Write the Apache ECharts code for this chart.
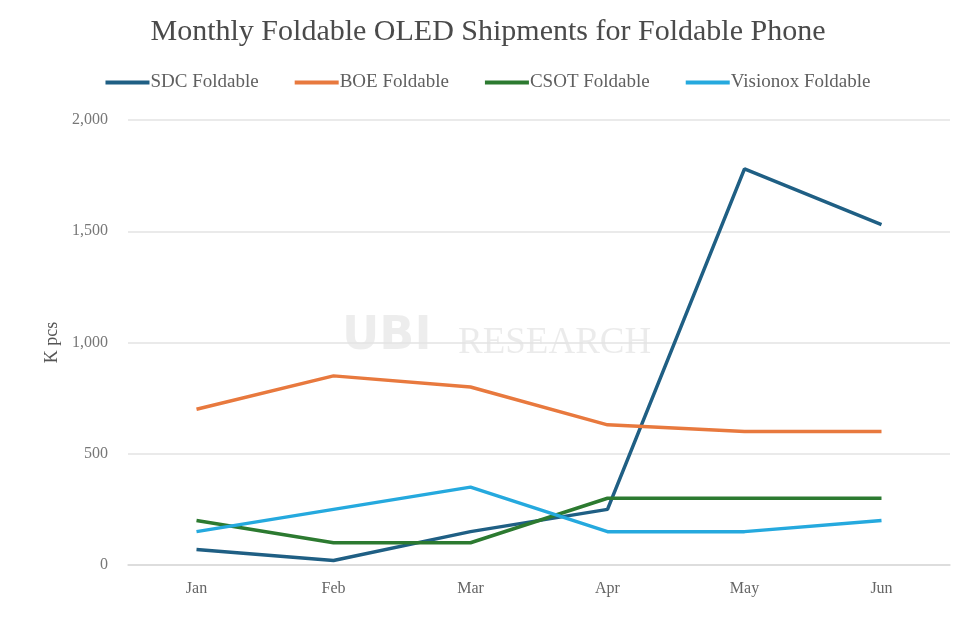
<!DOCTYPE html>
<html>
<head>
<meta charset="utf-8" />
<title>Monthly Foldable OLED Shipments</title>
<script type="text/javascript" src="https://cdn.jsdelivr.net/npm/echarts@6/dist/echarts.min.js"></script>
<style>
	html, body { margin: 0; padding: 0; background: #fff; }
	#chart { width: 976px; height: 623px; }
</style>
</head>
<body>
<div id="chart"></div>
<script type="text/javascript">
var months = ['Jan', 'Feb', 'Mar', 'Apr', 'May', 'Jun'];
var sdcData = [70, 20, 150, 250, 1780, 1530];
var boeData = [700, 850, 800, 630, 600, 600];
var csotData = [200, 100, 100, 300, 300, 300];
var visionoxData = [150, 250, 350, 150, 150, 200];

var serif = '"Liberation Serif", "DejaVu Serif", serif';

function line(name, data, color) {
	return {
		name: name,
		type: 'line',
		data: data,
		symbol: 'none',
		lineStyle: { width: 3.5, color: color },
		itemStyle: { color: color }
	};
}

var myChart = echarts.init(document.getElementById('chart'));
var option = {
	backgroundColor: '#fff',
	animation: false,
	title: {
		text: 'Monthly Foldable OLED Shipments for Foldable Phone',
		left: 'center',
		top: 12,
		textStyle: { fontFamily: serif, fontSize: 30, fontWeight: 'normal', color: '#4a4a4a' }
	},
	legend: {
		top: 68,
		left: 'center',
		itemGap: 36,
		itemWidth: 44,
		itemHeight: 4,
		icon: 'rect',
		textStyle: { fontFamily: serif, fontSize: 19, color: '#5f5f5f', padding: [0, 0, 0, -4] },
		data: ['SDC Foldable', 'BOE Foldable', 'CSOT Foldable', 'Visionox Foldable']
	},
	graphic: [{
		type: 'text',
		left: 342,
		top: 314,
		silent: true,
		style: { text: 'UBI', font: 'bold 46px "DejaVu Sans"', fill: 'rgba(0,0,0,0.07)' }
	}, {
		type: 'text',
		left: 458,
		top: 325,
		silent: true,
		style: { text: 'RESEARCH', font: '37px "Liberation Serif"', fill: 'rgba(0,0,0,0.08)' }
	}],
	grid: { left: 128, right: 26, top: 120, bottom: 58 },
	xAxis: {
		type: 'category',
		data: months,
		boundaryGap: true,
		axisLine: { lineStyle: { color: '#d9d9d9', width: 1.5 } },
		axisTick: { show: false },
		axisLabel: { fontFamily: serif, fontSize: 16, color: '#666', margin: 16 }
	},
	yAxis: {
		type: 'value',
		min: 0,
		max: 2000,
		interval: 500,
		name: 'K pcs',
		nameLocation: 'middle',
		nameGap: 66,
		nameTextStyle: { fontFamily: serif, fontSize: 18, color: '#555' },
		axisLine: { show: false },
		axisTick: { show: false },
		axisLabel: {
			fontFamily: serif, fontSize: 16, color: '#777', margin: 20,
			formatter: function (v) { return v.toLocaleString('en-US'); }
		},
		splitLine: { lineStyle: { color: '#e3e3e3', width: 1.5 } }
	},
	series: [
		line('SDC Foldable', sdcData, '#1f5f84'),
		line('BOE Foldable', boeData, '#e8793e'),
		line('CSOT Foldable', csotData, '#2c7a30'),
		line('Visionox Foldable', visionoxData, '#25a9de')
	]
};
myChart.setOption(option);
window.onresize = myChart.resize;
</script>
</body>
</html>
